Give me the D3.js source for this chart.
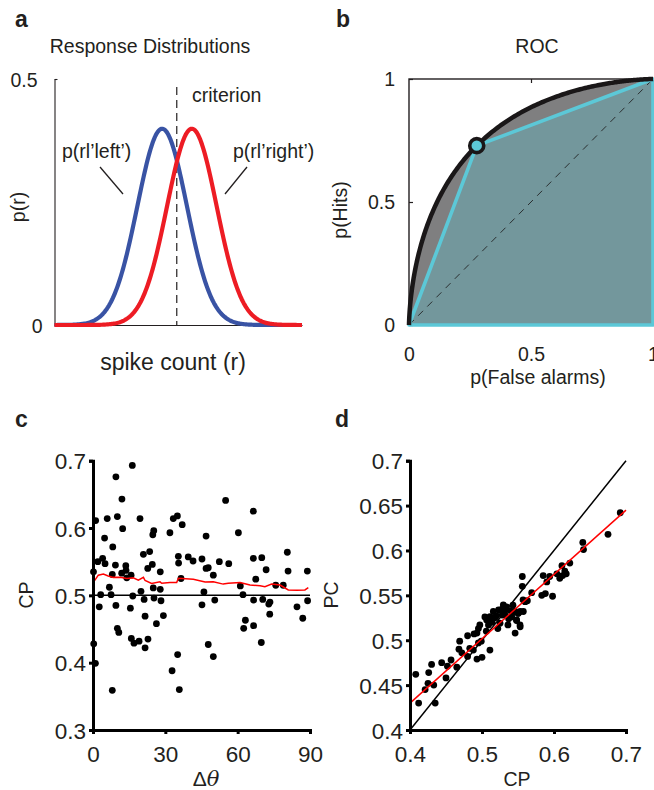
<!DOCTYPE html>
<html><head><meta charset="utf-8">
<script src="https://cdn.jsdelivr.net/npm/d3@7"></script>
<style>
html,body{margin:0;padding:0;background:#fff;}
svg{display:block;font-family:"Liberation Sans",Arial,Helvetica,sans-serif;}
</style></head><body>
<svg id="fig" width="654" height="790"></svg>
<script>
// ---------- data ----------
// a: two equal-variance response distributions and the decision criterion
const distNames = ["p(rl\u2019left\u2019)", "p(rl\u2019right\u2019)"];
const distMeans = [4.35, 5.55];
const distSD = [1, 1];
const distColors = ["#3953a4", "#ed1c24"];
const criterion = 4.94;
const spikeDomain = [0, 10];
const densityTicks = [0, 0.5];
// b: ROC axes
const rocTicks = [0, 0.5, 1];

// c: choice probability against orientation difference
const dTheta = [0.2,1.1,0.3,1.0,2.0,2.6,3.2,4.0,4.8,5.0,5.9,6.8,7.5,8.0,8.2,8.0,9.3,9.5,9.5,10.1,10.1,10.7,11.9,12.0,12.3,13.6,13.7,14.0,15.8,15.5,15.9,16.3,16.5,17.0,19.1,19.5,19.9,20.9,21.2,21.6,21.6,22.7,23.5,22.8,24.6,24.8,25.2,25.0,25.3,26.3,27.9,27.9,28.2,29.2,31.9,32.8,33.3,35.0,35.1,35.4,35.5,35.8,37.0,36.5,39.5,41.5,45.2,45.2,46.0,46.9,46.9,47.8,47.8,49.9,49.9,50.5,52.4,55.0,56.3,60.3,61.1,62.2,62.5,63.2,66.5,66.5,66.6,66.6,67.5,69.8,70.0,70.4,71.8,72.9,73.4,73.3,75.8,78.9,80.6,80.9,84.6,87.0,88.9,89.0];
const cpC = [0.535,0.611,0.428,0.399,0.550,0.483,0.501,0.555,0.585,0.547,0.614,0.512,0.501,0.531,0.572,0.359,0.545,0.676,0.485,0.617,0.451,0.445,0.533,0.643,0.599,0.544,0.537,0.526,0.530,0.481,0.436,0.693,0.499,0.429,0.432,0.614,0.506,0.561,0.494,0.469,0.422,0.540,0.565,0.435,0.546,0.590,0.596,0.511,0.496,0.458,0.535,0.509,0.492,0.470,0.593,0.388,0.614,0.618,0.412,0.558,0.548,0.360,0.605,0.525,0.557,0.551,0.554,0.486,0.505,0.588,0.540,0.541,0.427,0.530,0.409,0.493,0.550,0.641,0.547,0.593,0.514,0.501,0.451,0.463,0.625,0.555,0.493,0.455,0.524,0.430,0.556,0.494,0.538,0.487,0.490,0.472,0.515,0.515,0.564,0.536,0.483,0.466,0.536,0.492];
// running average of CP along Δθ
const runTheta = [0.1,0.8,2.2,4.3,6.3,8.4,11.2,14.0,16.7,18.8,20.9,21.6,24.3,27.8,28.5,31.9,34.7,35.4,41.6,46.5,49.9,54.0,56.1,61.0,65.1,69.3,71.3,74.1,77.6,81.0,84.5,87.9,89.3];
const runCP = [0.5276,0.5227,0.5300,0.5317,0.5287,0.5267,0.5270,0.5250,0.5260,0.5227,0.5267,0.5220,0.5178,0.5200,0.5180,0.5190,0.5190,0.5253,0.5240,0.5200,0.5203,0.5167,0.5180,0.5190,0.5153,0.5143,0.5128,0.5167,0.5153,0.5080,0.5075,0.5080,0.5113];
const cTicksX = [0, 30, 60, 90];
const cTicksY = [0.3, 0.4, 0.5, 0.6, 0.7];

// d: PC against CP
const cpD = [0.408,0.412,0.421,0.426,0.425,0.430,0.433,0.435,0.444,0.450,0.452,0.457,0.465,0.469,0.468,0.472,0.480,0.480,0.483,0.488,0.489,0.493,0.495,0.495,0.497,0.493,0.500,0.499,0.504,0.506,0.509,0.511,0.512,0.514,0.518,0.522,0.525,0.528,0.530,0.532,0.527,0.531,0.534,0.536,0.537,0.539,0.541,0.543,0.545,0.546,0.548,0.550,0.553,0.553,0.556,0.556,0.557,0.560,0.563,0.569,0.583,0.585,0.588,0.590,0.594,0.598,0.604,0.608,0.611,0.612,0.615,0.617,0.622,0.640,0.641,0.675,0.692,0.5065,0.5111,0.5157,0.520,0.523,0.5296,0.5412,0.5458,0.5481,0.5505,0.5528,0.5574,0.5597];
const pcD = [0.462,0.430,0.445,0.464,0.452,0.473,0.450,0.430,0.475,0.458,0.471,0.478,0.470,0.499,0.490,0.486,0.505,0.482,0.491,0.489,0.507,0.508,0.497,0.513,0.517,0.479,0.481,0.499,0.526,0.510,0.517,0.489,0.524,0.520,0.525,0.513,0.519,0.528,0.537,0.528,0.534,0.532,0.537,0.517,0.524,0.533,0.526,0.539,0.532,0.508,0.522,0.530,0.515,0.532,0.571,0.560,0.545,0.543,0.544,0.553,0.550,0.572,0.552,0.565,0.571,0.549,0.574,0.569,0.583,0.572,0.577,0.574,0.586,0.609,0.601,0.618,0.642,0.5226,0.5263,0.532,0.527,0.5337,0.5393,0.5263,0.532,0.5226,0.530,0.517,0.532,0.5431];
const fitCP = [0.4, 0.7];
const fitPC = [0.430, 0.645];
const unityLine = [0.4, 0.7];
const dTicksX = [0.4, 0.5, 0.6, 0.7];
const dTicksY = [0.4, 0.45, 0.5, 0.55, 0.6, 0.65, 0.7];

// ---------- helpers ----------
const svg = d3.select("#fig");
svg.append("rect").attr("width", 654).attr("height", 790).attr("fill", "#fff");
const INK = "#231f20";

function label(x, y, s, o = {}) {
  const t = svg.append("text")
    .attr("x", x).attr("y", y)
    .attr("font-size", o.size || 19.5)
    .attr("font-weight", o.bold ? "bold" : null)
    .attr("text-anchor", o.anchor || "start")
    .attr("fill", INK)
    .text(s);
  if (o.rotate) t.attr("transform", `rotate(-90,${x},${y})`);
  return t;
}
function normPdf(x, m, s) {
  const z = (x - m) / s;
  return Math.exp(-0.5 * z * z) / (s * Math.sqrt(2 * Math.PI));
}
function normCdf(z) {
  const t = 1 / (1 + 0.3275911 * Math.abs(z) / Math.SQRT2);
  const e = 1 - (((((1.061405429 * t - 1.453152027) * t) + 1.421413741) * t - 0.284496736) * t + 0.254829592) * t * Math.exp(-z * z / 2);
  return z >= 0 ? 0.5 * (1 + e) : 0.5 * (1 - e);
}

// ---------- a: response distributions ----------
const xA = d3.scaleLinear().domain(spikeDomain).range([54.5, 302]);
const yA = d3.scaleLinear().domain([0, 0.5]).range([325, 79]);

const axA = svg.append("g").attr("transform", "translate(54.5,0)")
  .call(d3.axisLeft(yA).tickValues(densityTicks).tickSizeInner(-3).tickSizeOuter(0).tickPadding(12).tickFormat(d3.format("")));
const axAb = svg.append("g").attr("transform", "translate(0,325)")
  .call(d3.axisBottom(xA).tickValues([]).tickSizeOuter(0));
[axA, axAb].forEach(g => {
  g.selectAll("path,line").attr("stroke", INK).attr("stroke-width", 1.1);
  g.selectAll("text").attr("font-size", 19.5).attr("fill", INK).attr("font-family", null);
});
axA.selectAll(".tick text").attr("x", d => d ? -17 : -12).attr("dy", "0.36em");

svg.append("line")
  .attr("x1", xA(criterion)).attr("x2", xA(criterion))
  .attr("y1", 87).attr("y2", yA(0))
  .attr("stroke", INK).attr("stroke-width", 1.2).attr("stroke-dasharray", "8,5");

const xs = d3.range(spikeDomain[0], spikeDomain[1] + 1e-9, 0.04);
const lineA = d3.line().x(d => xA(d[0])).y(d => yA(d[1]));
distMeans.forEach((m, i) => {
  svg.append("path")
    .datum(xs.map(x => [x, normPdf(x, m, distSD[i])]))
    .attr("d", lineA).attr("fill", "none")
    .attr("stroke", distColors[i]).attr("stroke-width", 4.2)
    .attr("stroke-linejoin", "round");
});

label(15, 27, "a", { size: 23, bold: true });
label(150, 53, "Response Distributions", { anchor: "middle" });
label(192, 102, "criterion");
label(62, 158, distNames[0]);
label(233, 158, distNames[1]);
svg.append("line").attr("x1", 100).attr("y1", 167).attr("x2", 123).attr("y2", 194).attr("stroke", INK).attr("stroke-width", 1.3);
svg.append("line").attr("x1", 247).attr("y1", 167).attr("x2", 225).attr("y2", 194).attr("stroke", INK).attr("stroke-width", 1.3);
label(173, 370, "spike count (r)", { anchor: "middle", size: 23 });
label(25, 207, "p(r)", { anchor: "middle", rotate: true });

// ---------- b: ROC ----------
const xB = d3.scaleLinear().domain([0, 1]).range([409, 653]);
const yB = d3.scaleLinear().domain([0, 1]).range([325, 79]);

const crits = d3.range(-8, 18, 0.02);
const roc = [[0, 0]].concat(
  crits.map(c => [1 - normCdf((c - distMeans[0]) / distSD[0]), 1 - normCdf((c - distMeans[1]) / distSD[1])])
    .sort((p, q) => p[0] - q[0]),
  [[1, 1]]);
const opFA = 1 - normCdf((criterion - distMeans[0]) / distSD[0]);
const opHit = 1 - normCdf((criterion - distMeans[1]) / distSD[1]);

const rocLine = d3.line().x(d => xB(d[0])).y(d => yB(d[1]));
const rocArea = d3.area().x(d => xB(d[0])).y0(yB(0)).y1(d => yB(d[1]));

svg.append("path").datum(roc).attr("d", rocArea).attr("fill", "#7f7f80");
const poly = [[0, 0], [opFA, opHit], [1, 1], [1, 0]];
svg.append("path").datum(poly).attr("d", rocLine + "Z").attr("d", rocLine(poly) + "Z")
  .attr("fill", "#73979c");
svg.append("line")
  .attr("x1", xB(0)).attr("y1", yB(0)).attr("x2", xB(1)).attr("y2", yB(1))
  .attr("stroke", "#2a2f30").attr("stroke-width", 1).attr("stroke-dasharray", "7,6");

// frame with inward ticks
svg.append("rect").attr("x", xB(0)).attr("y", yB(1)).attr("width", xB(1) - xB(0)).attr("height", yB(0) - yB(1))
  .attr("fill", "none").attr("stroke", INK).attr("stroke-width", 1.4);
const axBl = svg.append("g").attr("transform", `translate(${xB(0)},0)`)
  .call(d3.axisLeft(yB).tickValues(rocTicks).tickSizeInner(-4).tickSizeOuter(0).tickPadding(14).tickFormat(d3.format("")));
const axBt = svg.append("g").attr("transform", `translate(0,${yB(1)})`)
  .call(d3.axisTop(xB).tickValues([0.5]).tickSizeInner(-4).tickSizeOuter(0).tickFormat(""));
const axBb = svg.append("g").attr("transform", `translate(0,${yB(0)})`)
  .call(d3.axisBottom(xB).tickValues(rocTicks).tickSizeInner(0).tickSizeOuter(0).tickPadding(22).tickFormat(d3.format("")));
[axBl, axBt, axBb].forEach(g => {
  g.select(".domain").remove();
  g.selectAll("line").attr("stroke", INK).attr("stroke-width", 1.2);
  g.selectAll("text").attr("font-size", 19.5).attr("fill", INK).attr("font-family", null);
});

svg.append("path").datum(poly).attr("d", rocLine(poly) + "Z")
  .attr("fill", "none").attr("stroke", "#5cc8d7").attr("stroke-width", 3.6).attr("stroke-linejoin", "round");
svg.append("path").datum(roc).attr("d", rocLine).attr("fill", "none")
  .attr("stroke", "#1a1718").attr("stroke-width", 4.5).attr("stroke-linejoin", "round");
svg.append("circle").attr("cx", xB(opFA)).attr("cy", yB(opHit)).attr("r", 7)
  .attr("fill", "#5cc8d7").attr("stroke", "#1a1718").attr("stroke-width", 3.6);

label(336, 27, "b", { size: 23, bold: true });
label(537, 53, "ROC", { anchor: "middle" });
label(538, 384, "p(False alarms)", { anchor: "middle" });
label(347, 210, "p(Hits)", { anchor: "middle", rotate: true });

// ---------- c / d shared axis styling ----------
function thickAxes(xS, yS, xt, yt, fmtY) {
  const gx = svg.append("g").attr("transform", `translate(0,${yS.range()[0]})`)
    .call(d3.axisBottom(xS).tickValues(xt).tickSizeInner(4).tickSizeOuter(4).tickPadding(12).tickFormat(d3.format("")));
  const gy = svg.append("g").attr("transform", `translate(${xS.range()[0]},0)`)
    .call(d3.axisLeft(yS).tickValues(yt).tickSizeInner(4).tickSizeOuter(4).tickPadding(3).tickFormat(fmtY));
  [gx, gy].forEach(g => {
    g.selectAll("path,line").attr("stroke", "#000").attr("stroke-width", 3);
    g.selectAll("text").attr("font-size", 22.5).attr("fill", INK).attr("font-family", null);
  });
  gy.selectAll("text").attr("dy", "0.36em");
}

// ---------- c: CP vs Δθ ----------
const xC = d3.scaleLinear().domain([0, 90]).range([93, 310]);
const yC = d3.scaleLinear().domain([0.3, 0.7]).range([730, 460.7]);

svg.append("line").attr("x1", xC(0)).attr("x2", xC(90)).attr("y1", yC(0.5)).attr("y2", yC(0.5))
  .attr("stroke", "#000").attr("stroke-width", 1.5);
svg.append("g").selectAll("circle").data(dTheta.map((t, i) => [t, cpC[i]])).join("circle")
  .attr("cx", d => xC(d[0])).attr("cy", d => yC(d[1])).attr("r", 3.4).attr("fill", "#000");
svg.append("path").datum(runTheta.map((t, i) => [t, runCP[i]]))
  .attr("d", d3.line().x(d => xC(d[0])).y(d => yC(d[1])))
  .attr("fill", "none").attr("stroke", "#ff0000").attr("stroke-width", 1.5);
thickAxes(xC, yC, cTicksX, cTicksY, d3.format(".1f"));

label(15, 427, "c", { size: 23, bold: true });
label(33, 595, "CP", { anchor: "middle", rotate: true });
const dt = label(206, 786, "", { anchor: "middle", size: 21 });
dt.append("tspan").text("\u0394");
dt.append("tspan").attr("font-style", "italic").attr("font-family", "'DejaVu Serif','Liberation Serif',serif").text("\u03b8");

// ---------- d: PC vs CP ----------
const xD = d3.scaleLinear().domain([0.4, 0.7]).range([410, 626]);
const yD = d3.scaleLinear().domain([0.4, 0.7]).range([730, 460.7]);

svg.append("path").datum(unityLine.map(v => [v, v]))
  .attr("d", d3.line().x(d => xD(d[0])).y(d => yD(d[1])))
  .attr("stroke", "#000").attr("stroke-width", 1.5).attr("fill", "none");
svg.append("g").selectAll("circle").data(cpD.map((c, i) => [c, pcD[i]])).join("circle")
  .attr("cx", d => xD(d[0])).attr("cy", d => yD(d[1])).attr("r", 3.4).attr("fill", "#000");
svg.append("path").datum(fitCP.map((c, i) => [c, fitPC[i]]))
  .attr("d", d3.line().x(d => xD(d[0])).y(d => yD(d[1])))
  .attr("stroke", "#ff0000").attr("stroke-width", 1.5).attr("fill", "none");
thickAxes(xD, yD, dTicksX, dTicksY, d => String(d));

label(335, 427, "d", { size: 23, bold: true });
label(338, 595, "PC", { anchor: "middle", rotate: true });
label(517, 786, "CP", { anchor: "middle" });
</script>
</body></html>
